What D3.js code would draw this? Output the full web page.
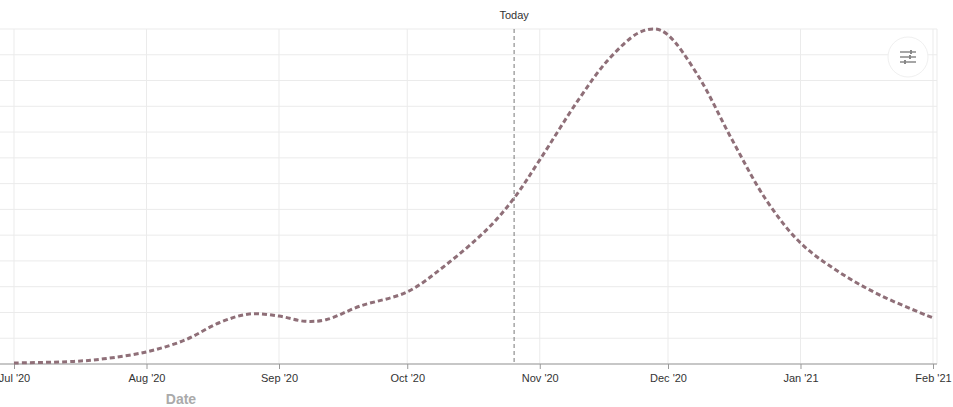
<!DOCTYPE html><html><head><meta charset="utf-8"><script src="https://cdn.jsdelivr.net/npm/d3@7"></script>
<style>body{margin:0;background:#fff;font-family:"Liberation Sans",Arial,sans-serif}</style></head><body><svg id="c" width="953" height="407"></svg>
<script>
const dates=["2020-07-01","2020-07-15","2020-07-22","2020-08-01","2020-08-10","2020-08-18","2020-08-25","2020-09-01","2020-09-07","2020-09-12","2020-09-20","2020-10-01","2020-10-10","2020-10-20","2020-10-26","2020-11-01","2020-11-10","2020-11-17","2020-11-24","2020-11-28","2020-12-01","2020-12-08","2020-12-16","2020-12-24","2021-01-01","2021-01-10","2021-01-20","2021-02-01"];
const values=[0.04,0.1,0.2,0.47,0.93,1.6,1.94,1.86,1.66,1.72,2.25,2.8,3.84,5.28,6.44,7.92,10.24,11.8,12.84,13,12.77,11.2,8.7,6.36,4.7,3.57,2.64,1.79];
const tickDates=["2020-07-01","2020-08-01","2020-09-01","2020-10-01","2020-11-01","2020-12-01","2021-01-01","2021-02-01"];
const tickLabels=["Jul '20","Aug '20","Sep '20","Oct '20","Nov '20","Dec '20","Jan '21","Feb '21"];
const today="2020-10-26";
const p=d3.timeParse("%Y-%m-%d");
const svg=d3.select("#c");
const x=d3.scaleTime().domain([p("2020-07-01"),p("2021-02-01")]).range([14,933]);
const y=d3.scaleLinear().domain([0,13]).range([364,29]);
const g=svg.append("g");
y.ticks(13).forEach(t=>g.append("line").attr("x1",0).attr("x2",937).attr("y1",y(t)).attr("y2",y(t)).attr("stroke","#ebebeb"));
tickDates.forEach(t=>g.append("line").attr("x1",x(p(t))).attr("x2",x(p(t))).attr("y1",29).attr("y2",364).attr("stroke","#ebebeb"));
g.append("line").attr("x1",937).attr("x2",937).attr("y1",29).attr("y2",364).attr("stroke","#ebebeb");
const ax=svg.append("g").attr("transform","translate(0,364)").call(d3.axisBottom(x).tickValues(tickDates.map(p)).tickFormat((d,i)=>tickLabels[i]).tickSize(5));
ax.select(".domain").attr("stroke","#999").attr("d","M0,0H937");
ax.selectAll(".tick line").attr("stroke","#999");
ax.selectAll("text").attr("font-size",11).attr("fill","#333").attr("font-family","Liberation Sans,Arial,sans-serif").attr("dy","0.9em");
svg.append("text").attr("x",181).attr("y",404).attr("text-anchor","middle").attr("font-size",14).attr("font-weight","bold").attr("fill","#aaa").text("Date");
svg.append("line").attr("x1",x(p(today))).attr("x2",x(p(today))).attr("y1",29).attr("y2",364).attr("stroke","#777").attr("stroke-dasharray","4,3");
svg.append("text").attr("x",x(p(today))).attr("y",19).attr("text-anchor","middle").attr("font-size",11).attr("fill","#333").text("Today");
svg.append("path").datum(dates.map((d,i)=>[p(d),values[i]])).attr("d",d3.line().x(d=>x(d[0])).y(d=>y(d[1])).curve(d3.curveCatmullRom.alpha(0.5))).attr("fill","none").attr("stroke","#8f6f78").attr("stroke-width",3).attr("stroke-dasharray","5,3");
const b=svg.append("g").attr("transform","translate(908,57)");
b.append("circle").attr("r",20).attr("fill","#fff").attr("stroke","#f0f0f0");
[-5,0,5].forEach((dy,i)=>{b.append("line").attr("x1",-8).attr("x2",8).attr("y1",dy).attr("y2",dy).attr("stroke","#888").attr("stroke-width",1.5);
b.append("line").attr("x1",[3,2,-3][i]).attr("x2",[3,2,-3][i]).attr("y1",dy-2).attr("y2",dy+2).attr("stroke","#888").attr("stroke-width",2);});
</script></body></html>
